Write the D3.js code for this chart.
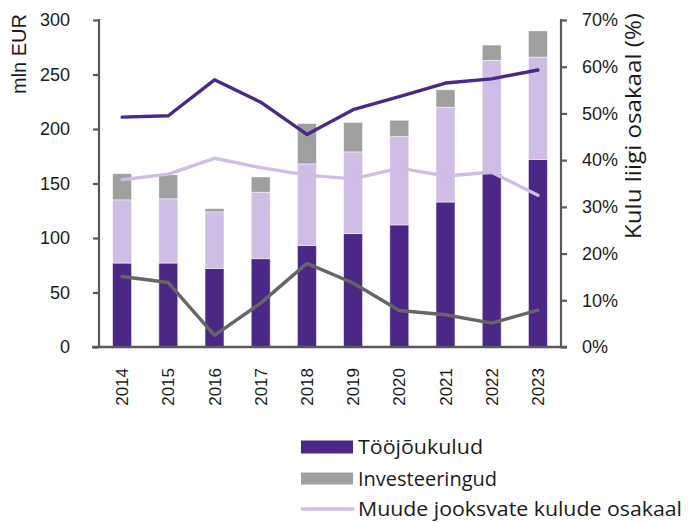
<!DOCTYPE html>
<html><head><meta charset="utf-8">
<script src="https://cdn.jsdelivr.net/npm/d3@7"></script>
<style>body{margin:0;background:#fff}svg{display:block}</style>
</head><body>
<svg id="c" width="689" height="522"></svg>
<script>
const years = ["2014","2015","2016","2017","2018","2019","2020","2021","2022","2023"];
const labourCosts = [77, 77, 72, 81, 93, 104, 112, 133, 159, 172];
const otherCosts = [58, 59, 52, 61, 75, 75, 81, 87, 104, 94];
const investments = [24, 22, 3, 14, 37, 27, 15, 16, 14, 24];
const labourShare = [49.2, 49.5, 57.2, 52.4, 45.5, 50.8, 53.6, 56.5, 57.4, 59.3];
const otherShare = [35.8, 37.0, 40.4, 38.4, 36.8, 36.0, 38.3, 36.6, 37.4, 32.5];
const investShare = [15.1, 13.8, 2.5, 9.4, 17.9, 13.7, 7.8, 6.9, 5.1, 7.9];
const leftTicks = [0, 50, 100, 150, 200, 250, 300];
const rightTicks = [0, 10, 20, 30, 40, 50, 60, 70];
const legendItems = ["Tööjõukulud", "Investeeringud", "Muude jooksvate kulude osakaal"];

const C = {purple:"#4b2886", lav:"#cfbde6", grey:"#a09f9f", line:"#666666", axis:"#595959"};
const svg = d3.select("#c");
const L = 99, R = 561, T = 20, B = 347;

const x = d3.scaleBand().domain(years).range([L, R]).paddingInner(0.59).paddingOuter(0.295);
const y = d3.scaleLinear().domain([0, 300]).range([B, T]);
const y2 = d3.scaleLinear().domain([0, 70]).range([B, T]);

const rows = years.map((yr, i) => ({year: yr, labour: labourCosts[i], other: otherCosts[i], invest: investments[i]}));
const stack = d3.stack().keys(["labour", "other", "invest"])(rows);
const colors = {labour: C.purple, other: C.lav, invest: C.grey};

svg.append("g").selectAll("g").data(stack).join("g")
  .attr("fill", d => colors[d.key])
  .selectAll("rect").data(d => d).join("rect")
  .attr("x", d => x(d.data.year))
  .attr("width", x.bandwidth())
  .attr("y", d => y(d[1]))
  .attr("height", d => y(d[0]) - y(d[1]))
  .attr("stroke", "#ffffff").attr("stroke-opacity", 0.6).attr("stroke-width", 0.8);

const lineGen = arr => d3.line().x((d, i) => x(years[i]) + x.bandwidth() / 2).y(d => y2(d))(arr);
[[labourShare, C.purple], [otherShare, C.lav], [investShare, C.line]].forEach(([arr, col]) => {
  svg.append("path").attr("d", lineGen(arr)).attr("fill", "none")
    .attr("stroke", col).attr("stroke-width", 3.4).attr("stroke-linejoin", "round").attr("stroke-linecap", "round");
});

const fontNum = "'Liberation Sans', Arial, sans-serif";
const fontHum = "'Open Sans', 'Noto Sans', sans-serif";
const lg = svg.append("g").attr("transform", `translate(${L},0)`)
  .call(d3.axisLeft(y).tickValues(leftTicks).tickSize(6).tickPadding(23));
lg.select(".domain").remove();
lg.selectAll("line").attr("stroke", C.axis).attr("stroke-width", 2.2);
lg.selectAll("text").attr("font-family", fontNum).attr("font-size", 18).attr("fill", "#1a1a1a");
svg.append("line").attr("x1", L).attr("x2", L).attr("y1", T - 1).attr("y2", B).attr("stroke", C.axis).attr("stroke-width", 2.2);

const rg = svg.append("g").attr("transform", `translate(${R},0)`)
  .call(d3.axisRight(y2).tickValues(rightTicks).tickSize(6).tickPadding(15).tickFormat(d => d + "%"));
rg.select(".domain").remove();
rg.selectAll("line").attr("stroke", C.axis).attr("stroke-width", 2.2);
rg.selectAll("text").attr("font-family", fontNum).attr("font-size", 18).attr("fill", "#1a1a1a");
svg.append("line").attr("x1", R).attr("x2", R).attr("y1", T - 1).attr("y2", B).attr("stroke", C.axis).attr("stroke-width", 2.2);

svg.append("line").attr("x1", L - 7).attr("x2", R + 6).attr("y1", B).attr("y2", B).attr("stroke", C.axis).attr("stroke-width", 2.4);

svg.append("g").selectAll("text").data(years).join("text")
  .attr("transform", d => `translate(${x(d) + x.bandwidth() / 2 + 6},368) rotate(-90)`)
  .attr("text-anchor", "end").attr("font-family", fontNum).attr("font-size", 17).attr("fill", "#1a1a1a")
  .text(d => d);

svg.append("text").attr("transform", "translate(26,14) rotate(-90)").attr("text-anchor", "end")
  .attr("font-family", fontNum).attr("font-size", 20).attr("fill", "#1a1a1a").text("mln EUR");
svg.append("text").attr("transform", "translate(641,13) rotate(-90)").attr("text-anchor", "end")
  .attr("font-family", fontHum).attr("font-size", 22.5).attr("fill", "#1a1a1a")
  .attr("textLength", 226).attr("lengthAdjust", "spacingAndGlyphs").text("Kulu liigi osakaal (%)");

const leg = svg.append("g");
const ly = [447, 478.5, 509];
leg.append("rect").attr("x", 301).attr("y", ly[0] - 6.5).attr("width", 52).attr("height", 13).attr("fill", C.purple);
leg.append("rect").attr("x", 301).attr("y", ly[1] - 6).attr("width", 52).attr("height", 12).attr("fill", C.grey);
leg.append("line").attr("x1", 302).attr("x2", 353).attr("y1", ly[2]).attr("y2", ly[2]).attr("stroke", C.lav).attr("stroke-width", 3.4).attr("stroke-linecap", "round");
const legW = [125, 142, 324];
leg.selectAll("text").data(legendItems).join("text")
  .attr("x", 358).attr("y", (d, i) => ly[i]).attr("dy", "0.35em")
  .attr("font-family", fontHum).attr("font-size", 20).attr("fill", "#1a1a1a")
  .text(d => d)
  .each(function(d, i) {
    const w = this.getComputedTextLength();
    const target = legW[i];
    if (Math.abs(w - target) > 3) d3.select(this).attr("textLength", target).attr("lengthAdjust", "spacingAndGlyphs");
  });
</script>
</body></html>
